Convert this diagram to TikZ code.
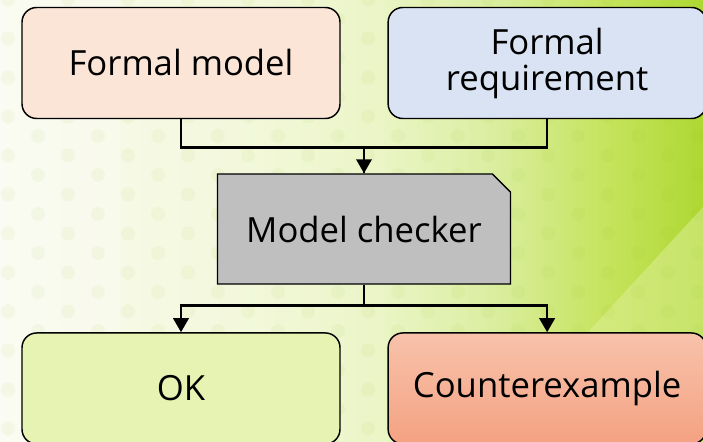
\documentclass[tikz,border=0pt]{standalone}
\usepackage{fontspec}
\setmainfont{Open Sans}
\usetikzlibrary{arrows.meta,positioning,shapes.misc}

\definecolor{modelfill}{HTML}{FBE5D6}
\definecolor{reqfill}{HTML}{DAE3F3}
\definecolor{checkfill}{HTML}{BFBFBF}
\definecolor{okfill}{HTML}{E7F3B2}
\definecolor{cetop}{HTML}{F8C2AB}
\definecolor{cebot}{HTML}{F4A282}
\definecolor{dotgreen}{HTML}{8FBF1E}
\definecolor{bandlight}{HTML}{DCEF95}
\definecolor{bga}{HTML}{F9FAEE}
\definecolor{bgb}{HTML}{F3F8DC}
\definecolor{bgc}{HTML}{EBF5C6}
\definecolor{bgd}{HTML}{DAEEA0}
\definecolor{bge}{HTML}{C6E45E}
\definecolor{bgf}{HTML}{AED833}

\pgfdeclarehorizontalshading{bgshade}{100bp}{
    color(0bp)=(bga); color(25bp)=(bga);
    color(42bp)=(bgb); color(52bp)=(bgc);
    color(60bp)=(bgd); color(68bp)=(bge);
    color(75bp)=(bgf); color(100bp)=(bgf)}

\begin{document}
\begin{tikzpicture}[
    x=0.75pt, y=-0.75pt,
    node distance=159.75pt and 35pt,
    block/.style={rectangle, rounded corners=11pt, draw=black, line width=1.1pt,
                  minimum width=238.5pt, minimum height=83.25pt, align=center,
                  font=\fontsize{26}{27}\selectfont},
    checker/.style={chamfered rectangle, chamfered rectangle corners=north east,
                    chamfered rectangle xsep=12.5pt, draw=black, line width=1.1pt,
                    fill=checkfill, minimum width=219.75pt, minimum height=82.5pt,
                    inner sep=0pt, font=\fontsize{26}{27}\selectfont},
    link/.style={line width=2pt},
    arr/.style={-{Triangle[length=10.5pt, width=11.5pt]}, line width=2pt},
]
% Background
\useasboundingbox (0,0) rectangle (703,442);
\shade[shading=bgshade] (0,0) rectangle (703,442);
\fill[bandlight, opacity=0.55] (487,442) -- (703,207) -- (703,442) -- cycle;
\fill[white, opacity=0.25] (0,0) rectangle (120,442);
\foreach \r [evaluate=\r as \off using {mod(\r,2)*30}] in {0,...,23}
    \foreach \c in {0,...,11}
        \fill[dotgreen, opacity=0.06] (8+\off+60*\c, -0.5+19.5*\r) circle[radius=5.25pt];

% Inputs
\node[block, fill=modelfill] (model) at (181,63) {Formal model};
\node[block, fill=reqfill, right=of model] (req) {Formal\\requirement};

% Checker
\node[checker] (checker) at (364,229) {Model checker};

% Results
\node[block, fill=okfill, below=of model] (ok) {OK};
\node[block, top color=cetop, bottom color=cebot, below=of req] (cex) {Counterexample};

% Arrows
\draw[link] (model.south) -- ++(0,28) -| (checker.north);
\draw[arr] (req.south) -- ++(0,28) -| (checker.north);
\draw[arr] (checker.south) -- ++(0,21) -| (ok.north);
\draw[arr] (checker.south) -- ++(0,21) -| (cex.north);
\end{tikzpicture}
\end{document}
